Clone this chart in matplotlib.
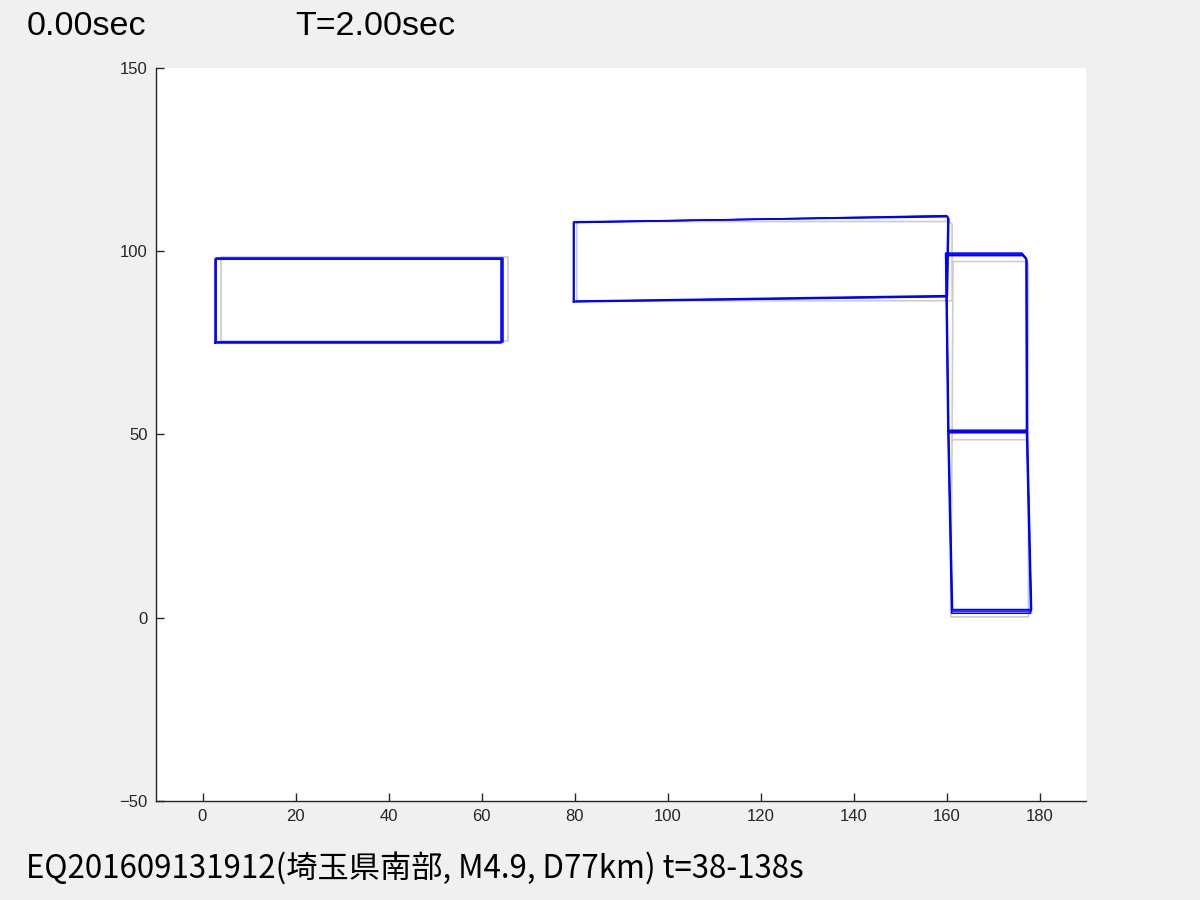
import matplotlib.pyplot as plt

# undeformed frame (gray)
gray_a_x = [4.0, 65.6, 65.6, 4.0, 4.0]
gray_a_y = [75.4, 75.4, 98.4, 98.4, 75.4]
gray_b_x = [80.5, 161.2, 161.2, 160.6, 80.5, 80.5]
gray_b_y = [86.4, 86.4, 107.3, 108.0, 108.0, 86.4]
gray_c_x = [161.2, 177.6, 177.6, 177.0, 161.4, 161.2, 160.9, 177.6, 177.6]
gray_c_y = [48.5, 48.5, 96.6, 97.1, 97.1, 48.5, 0.2, 0.2, 48.5]

# deformed frames (blue), several time steps
blue_a_x = [[2.8, 64.4, 64.4, 2.8, 2.8],
            [3.0, 64.6, 64.6, 3.0, 3.0],
            [2.7, 64.3, 64.3, 2.7, 2.7]]
blue_a_y = [[75.1, 75.1, 97.9, 97.9, 75.1],
            [75.2, 75.2, 98.0, 98.0, 75.2],
            [75.0, 75.0, 97.8, 97.8, 75.0]]
blue_b_x = [[79.8, 160.1, 160.4, 160.1, 79.8, 79.8],
            [79.9, 160.2, 160.5, 160.2, 79.9, 79.9],
            [79.8, 160.0, 160.3, 160.0, 79.8, 79.8]]
blue_b_y = [[86.2, 87.6, 108.9, 109.5, 107.8, 86.2],
            [86.3, 87.8, 108.7, 109.3, 107.9, 86.3],
            [86.1, 87.5, 109.0, 109.6, 107.7, 86.1]]
blue_c_x = [[160.4, 177.3, 177.2, 176.3, 159.9, 160.4, 161.2, 178.2, 177.3],
            [160.5, 177.4, 177.3, 176.4, 160.0, 160.5, 161.3, 178.3, 177.4],
            [160.3, 177.2, 177.1, 176.2, 159.8, 160.3, 161.1, 178.1, 177.2]]
blue_c_y = [[50.8, 50.8, 97.8, 99.1, 99.1, 50.8, 1.8, 1.8, 50.8],
            [50.4, 50.4, 97.5, 98.7, 98.7, 50.4, 2.2, 2.2, 50.4],
            [51.1, 51.1, 98.1, 99.4, 99.4, 51.1, 1.2, 1.2, 51.1]]

x_ticks = [0, 20, 40, 60, 80, 100, 120, 140, 160, 180]
y_ticks = [-50, 0, 50, 100, 150]

title_left = "0.00sec"
title_right = "T=2.00sec"
caption = "EQ201609131912(埼玉県南部, M4.9, D77km) t=38-138s"

fig = plt.figure(figsize=(12, 9), dpi=100, facecolor='#f0f0f0')
ax = fig.add_axes([0.13, 0.11, 0.775, 0.815])
ax.set_facecolor('white')

gray = (0.8, 0.8, 0.8)
ax.plot(gray_a_x, gray_a_y, color=gray, lw=1.2)
ax.plot(gray_b_x, gray_b_y, color=gray, lw=1.2)
ax.plot(gray_c_x, gray_c_y, color=gray, lw=1.2)

for xs, ys in zip(blue_a_x, blue_a_y):
    ax.plot(xs, ys, color='blue', lw=1.1)
for xs, ys in zip(blue_b_x, blue_b_y):
    ax.plot(xs, ys, color='blue', lw=1.1)
for xs, ys in zip(blue_c_x, blue_c_y):
    ax.plot(xs, ys, color='blue', lw=1.1)

ax.set_xlim(-10, 190)
ax.set_ylim(-50, 150)
ax.set_xticks(x_ticks)
ax.set_yticks(y_ticks)

for side in ['top', 'right']:
    ax.spines[side].set_visible(False)
for side in ['left', 'bottom']:
    ax.spines[side].set_color('#262626')
    ax.spines[side].set_linewidth(1.0)
ax.tick_params(direction='in', length=6, width=1.0, color='#262626',
               labelcolor='#262626', labelsize=12)
ax.tick_params(axis='x', pad=6)
ax.tick_params(axis='y', pad=6)
for lab in ax.get_xticklabels() + ax.get_yticklabels():
    lab.set_fontfamily('Liberation Sans')

fig.text(0.022, 0.961, title_left, fontsize=24.5, family='Liberation Sans', va='baseline')
fig.text(0.246, 0.961, title_right, fontsize=24.5, family='Liberation Sans', va='baseline')
fig.text(0.022, 0.025, caption, fontsize=22.5,
         family=['Noto Sans CJK JP', 'DejaVu Sans'], va='baseline')

fig.savefig('out.png', dpi=100, facecolor=fig.get_facecolor())
